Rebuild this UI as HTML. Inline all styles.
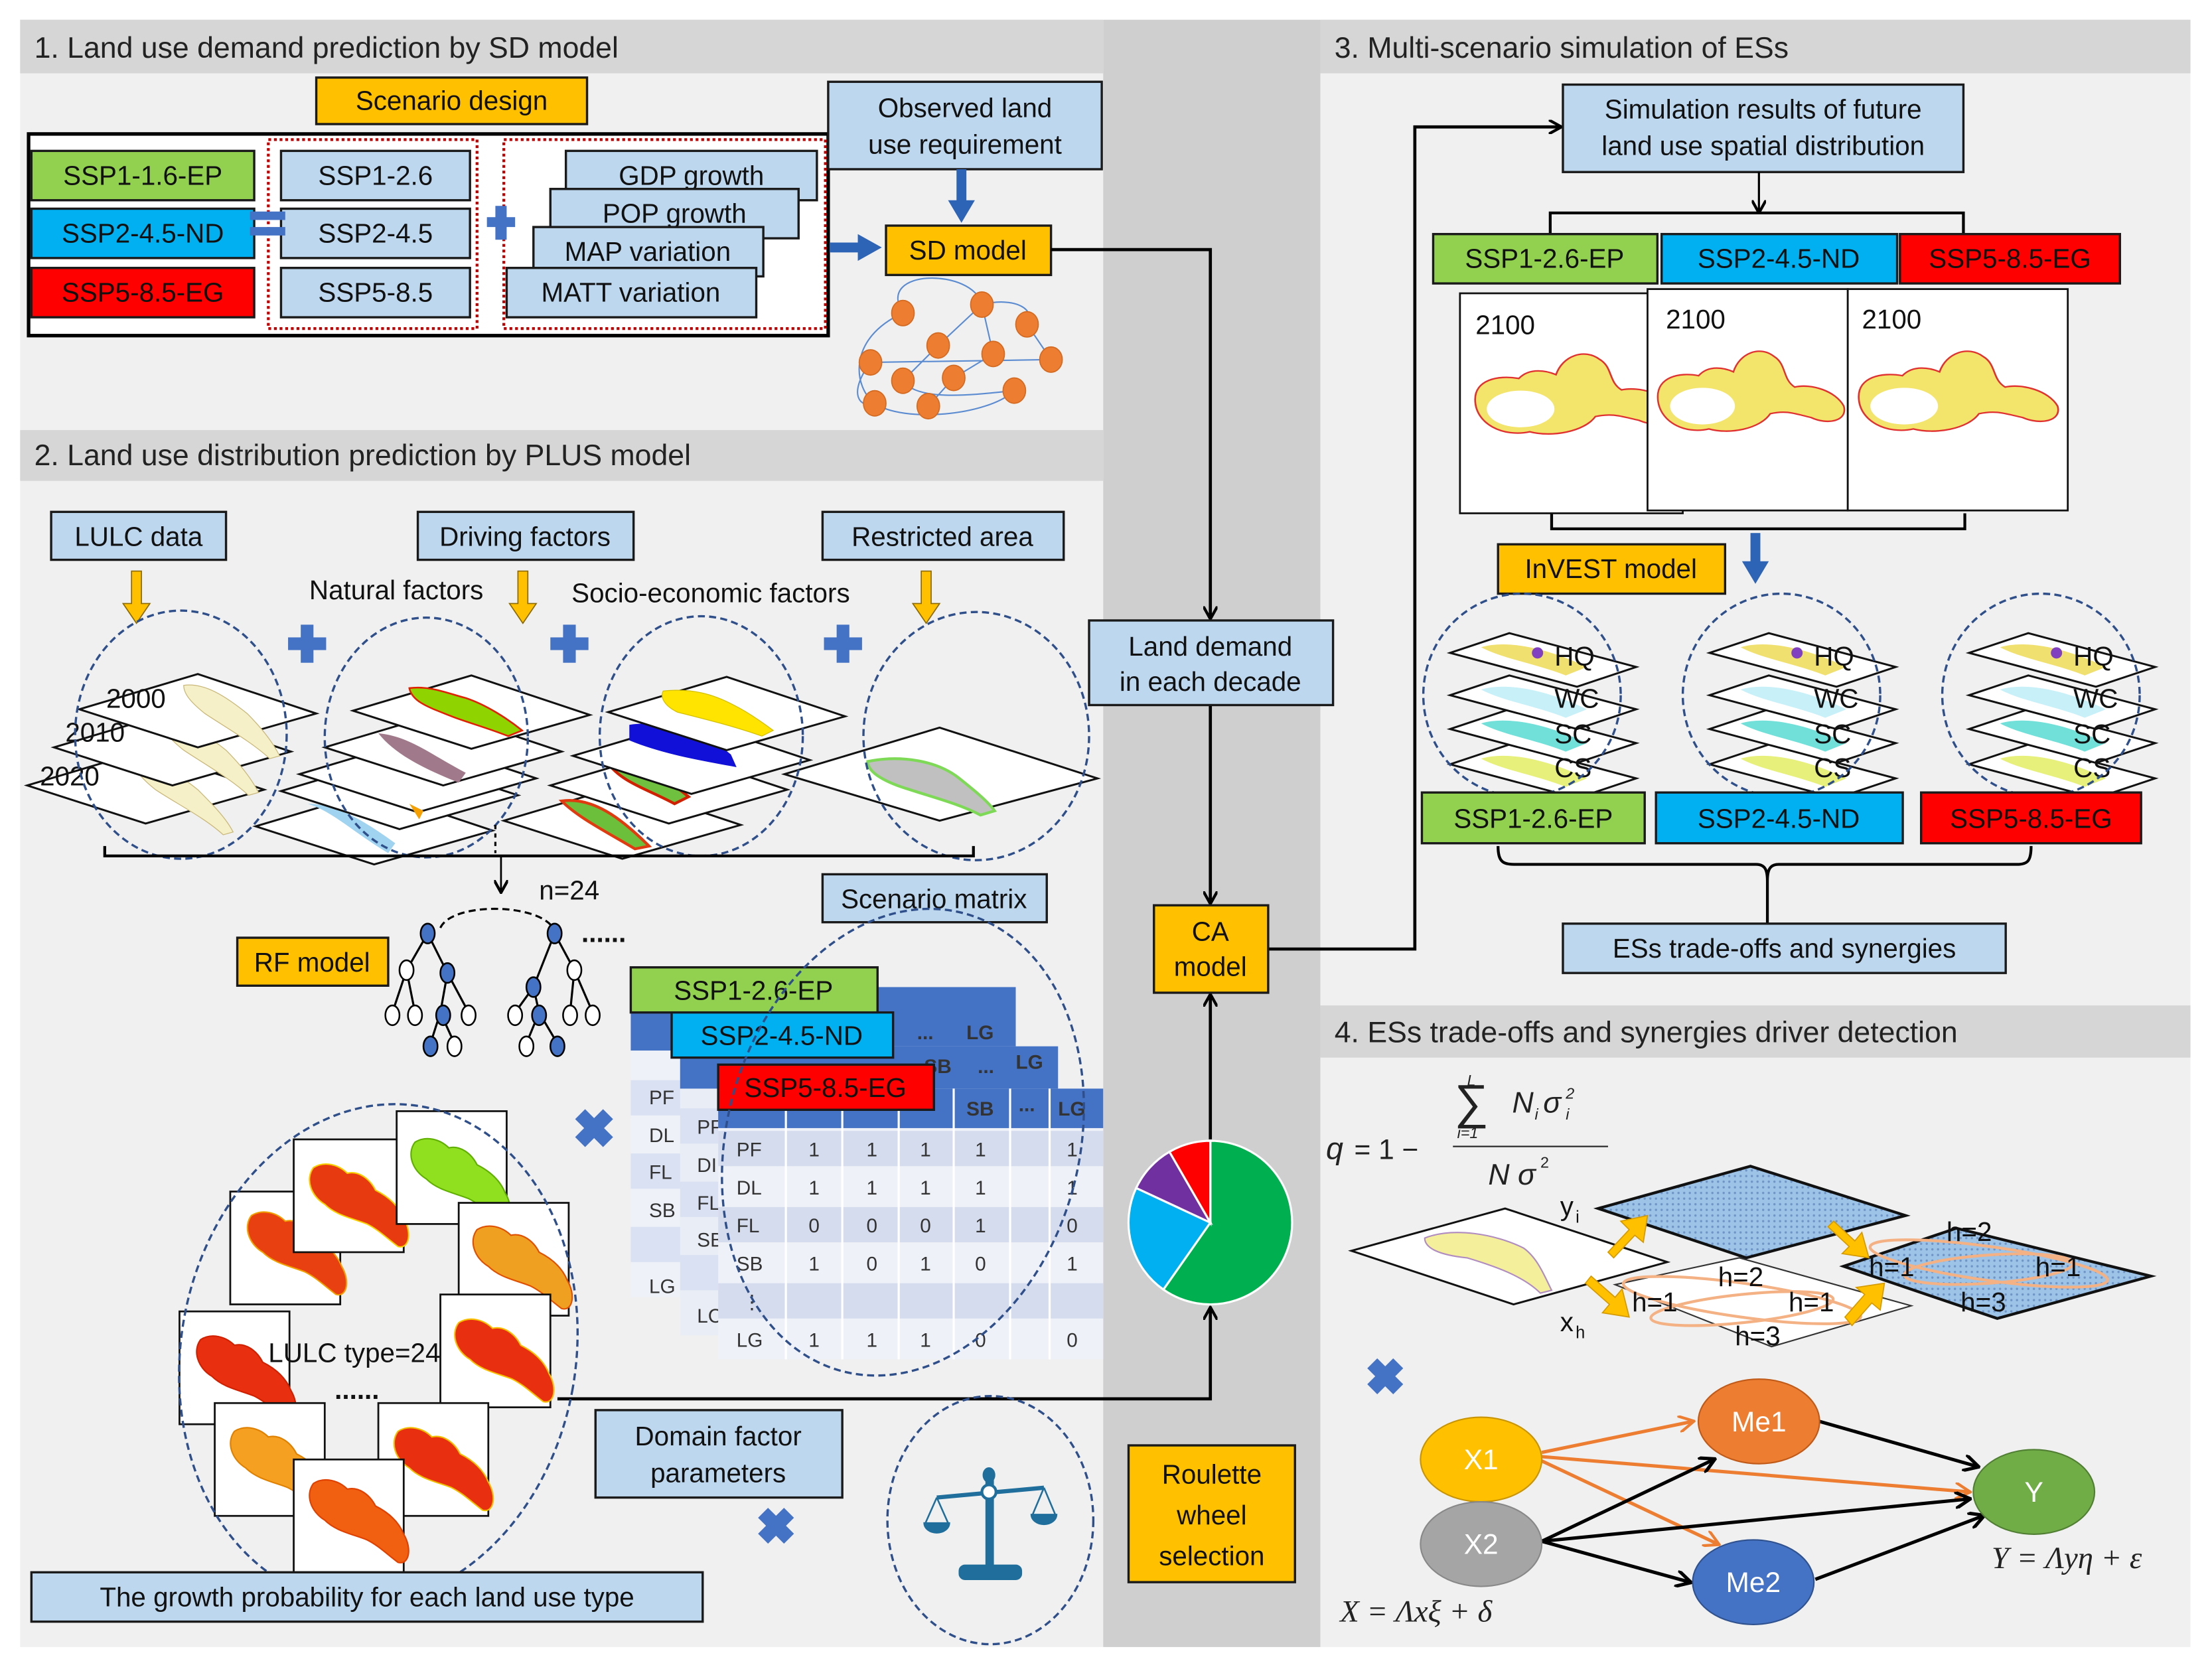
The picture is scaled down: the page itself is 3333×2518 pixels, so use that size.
<!DOCTYPE html>
<html><head><meta charset="utf-8"><style>
html,body{margin:0;padding:0;background:#fff;}
svg{display:block;}
text{font-family:"Liberation Sans",Arial,sans-serif;}
.b{font-size:19px;fill:#111;}
.h{font-size:21px;fill:#222;}
.lb{fill:#bdd7ee;stroke:#1a1a1a;stroke-width:1.6;}
.or{fill:#ffc000;stroke:#1a1a1a;stroke-width:1.6;}
.gr{fill:#92d050;stroke:#1a1a1a;stroke-width:1.6;}
.bl{fill:#00b0f0;stroke:#1a1a1a;stroke-width:1.6;}
.rd{fill:#ff0000;stroke:#1a1a1a;stroke-width:1.6;}
.dash{fill:none;stroke:#2f4f8a;stroke-width:1.6;stroke-dasharray:5 3;}
.ln{fill:none;stroke:#000;stroke-width:2.2;}
.dm{fill:#fff;stroke:#111;stroke-width:1.4;}
.tile{fill:#fff;stroke:#111;stroke-width:1.3;}
.t{font-size:14px;fill:#333;}
.w{font-size:20px;fill:#fff;}
.sr{font-family:"Liberation Serif",serif;font-style:italic;fill:#222;}
</style></head><body>
<svg width="3333" height="2518" viewBox="0 0 1568 1185" xmlns="http://www.w3.org/2000/svg">
<defs>
<marker id="ah" markerWidth="10" markerHeight="10" refX="8" refY="5" orient="auto" markerUnits="userSpaceOnUse"><path d="M0,0 L9,5 L0,10" fill="none" stroke="#000" stroke-width="2"/></marker>
<marker id="ao" markerWidth="12" markerHeight="12" refX="10" refY="6" orient="auto" markerUnits="userSpaceOnUse"><path d="M0,0 L11,6 L0,12" fill="none" stroke="#ed7d31" stroke-width="2"/></marker>
<marker id="ab" markerWidth="12" markerHeight="12" refX="10" refY="6" orient="auto" markerUnits="userSpaceOnUse"><path d="M0,0 L11,6 L0,12" fill="none" stroke="#000" stroke-width="2.4"/></marker>
<pattern id="dots" width="4" height="4" patternUnits="userSpaceOnUse"><rect width="4" height="4" fill="#9dc3e6"/><circle cx="2" cy="2" r="0.8" fill="#6f95c8"/></pattern>
<path id="basin" d="M5,35 C5,25 15,22 25,24 C30,18 38,20 42,22 C45,12 55,8 62,14 C68,18 66,26 72,30 C80,28 92,32 96,40 C98,48 88,50 80,46 C72,44 68,42 60,44 C55,52 40,55 30,52 C18,55 5,48 5,35 Z"/>
<path id="basin2" d="M10,10 C18,5 28,8 34,14 C42,12 50,18 54,26 C62,30 70,36 74,46 C80,56 78,68 70,66 C62,60 56,54 48,50 C38,46 26,44 18,36 C8,30 4,18 10,10 Z"/>
<g id="ldm"><polygon points="-84,0 0,-25 84,3 0,27" class="dm"/></g>
</defs>

<rect x="0" y="0" width="1568" height="1185" fill="#fff"/>
<rect x="14" y="14" width="768" height="1154" fill="#f0f0f0"/>
<rect x="782" y="14" width="154" height="1154" fill="#cfcfcf"/>
<rect x="936" y="14" width="617" height="1154" fill="#f0f0f0"/>
<rect x="14" y="14" width="768" height="38" fill="#d6d6d6"/>
<rect x="14" y="305" width="768" height="36" fill="#d6d6d6"/>
<rect x="936" y="14" width="617" height="38" fill="#d6d6d6"/>
<rect x="936" y="713" width="617" height="37" fill="#d6d6d6"/>
<text x="24" y="41" class="h">1. Land use demand prediction by SD model</text>
<text x="24" y="330" class="h">2. Land use distribution prediction by PLUS model</text>
<text x="946" y="41" class="h">3. Multi-scenario simulation of ESs</text>
<text x="946" y="739" class="h">4. ESs trade-offs and synergies driver detection</text>

<!-- SECTION 1 -->
<rect x="224" y="55" width="192" height="33" class="or"/><text x="320" y="78" class="b" text-anchor="middle">Scenario design</text>
<rect x="20" y="95" width="567" height="143" fill="#fff" stroke="#000" stroke-width="2.5"/>
<rect x="190" y="99" width="148" height="134" fill="none" stroke="#c00000" stroke-width="2" stroke-dasharray="2 2"/>
<rect x="357" y="99" width="228" height="134" fill="none" stroke="#c00000" stroke-width="2" stroke-dasharray="2 2"/>
<rect x="22" y="107" width="158" height="35" class="gr"/><text x="101" y="131" class="b" text-anchor="middle">SSP1-1.6-EP</text>
<rect x="22" y="148" width="158" height="35" class="bl"/><text x="101" y="172" class="b" text-anchor="middle">SSP2-4.5-ND</text>
<rect x="22" y="190" width="158" height="35" class="rd"/><text x="101" y="214" class="b" text-anchor="middle" fill="#600">SSP5-8.5-EG</text>
<rect x="199" y="107" width="134" height="35" class="lb"/><text x="266" y="131" class="b" text-anchor="middle">SSP1-2.6</text>
<rect x="199" y="148" width="134" height="35" class="lb"/><text x="266" y="172" class="b" text-anchor="middle">SSP2-4.5</text>
<rect x="199" y="190" width="134" height="35" class="lb"/><text x="266" y="214" class="b" text-anchor="middle">SSP5-8.5</text>
<rect x="177" y="150" width="25" height="6" fill="#4472c4"/><rect x="177" y="161" width="25" height="6" fill="#4472c4"/>
<rect x="345" y="154" width="20" height="7" fill="#4472c4"/><rect x="351" y="146" width="8" height="24" fill="#4472c4"/>
<rect x="401" y="107" width="178" height="35" class="lb"/><text x="490" y="131" class="b" text-anchor="middle">GDP growth</text>
<rect x="390" y="134" width="176" height="35" class="lb"/><text x="478" y="158" class="b" text-anchor="middle">POP growth</text>
<rect x="378" y="161" width="163" height="35" class="lb"/><text x="459" y="185" class="b" text-anchor="middle">MAP variation</text>
<rect x="359" y="190" width="177" height="35" class="lb"/><text x="447" y="214" class="b" text-anchor="middle">MATT variation</text>
<rect x="587" y="58" width="194" height="62" class="lb"/><text x="684" y="83" class="b" text-anchor="middle">Observed land</text><text x="684" y="109" class="b" text-anchor="middle">use requirement</text>
<rect x="678" y="120" width="7" height="24" fill="#2e64b5"/><polygon points="672,142 691,142 681.5,158" fill="#2e64b5"/>
<rect x="588" y="172" width="22" height="7" fill="#2e64b5"/><polygon points="608,166 608,185 625,175.5" fill="#2e64b5"/>
<rect x="628" y="160" width="117" height="35" class="or"/><text x="686" y="184" class="b" text-anchor="middle">SD model</text>
<g fill="none" stroke="#5b8bd0" stroke-width="1">
<path d="M640,222 C620,190 690,190 696,216"/><path d="M696,216 C720,210 735,220 728,230"/><path d="M640,222 C600,240 605,275 620,286"/><path d="M617,257 L745,255"/><path d="M620,286 C640,300 700,295 719,277"/><path d="M665,245 L640,270"/><path d="M704,251 L676,268"/><path d="M728,230 L745,255"/><path d="M658,288 L676,268"/><path d="M696,216 L704,251"/><path d="M640,270 C650,285 690,280 719,277"/><path d="M617,257 C600,280 610,290 620,286"/><path d="M665,245 L696,216"/>
</g>
<g fill="#ed7d31" stroke="#d46a20" stroke-width="0.8">
<ellipse cx="640" cy="222" rx="8" ry="9"/><ellipse cx="696" cy="216" rx="8" ry="9"/><ellipse cx="728" cy="230" rx="8" ry="9"/><ellipse cx="665" cy="245" rx="8" ry="9"/><ellipse cx="617" cy="257" rx="8" ry="9"/><ellipse cx="704" cy="251" rx="8" ry="9"/><ellipse cx="745" cy="255" rx="8" ry="9"/><ellipse cx="640" cy="270" rx="8" ry="9"/><ellipse cx="676" cy="268" rx="8" ry="9"/><ellipse cx="620" cy="286" rx="8" ry="9"/><ellipse cx="658" cy="288" rx="8" ry="9"/><ellipse cx="719" cy="277" rx="8" ry="9"/>
</g>

<polyline points="745,177 858,177 858,438" class="ln" marker-end="url(#ah)"/>
<polyline points="858,500 858,640" class="ln" marker-end="url(#ah)"/>
<polyline points="858,808 858,706" class="ln" marker-end="url(#ah)"/>
<polyline points="395,992 858,992 858,928" class="ln" marker-end="url(#ah)"/>
<polyline points="899,673 1003,673 1003,90 1106,90" class="ln" marker-end="url(#ah)"/>

<!-- SECTION 2 -->
<rect x="36" y="363" width="124" height="34" class="lb"/><text x="98" y="387" class="b" text-anchor="middle">LULC data</text>
<rect x="296" y="363" width="153" height="34" class="lb"/><text x="372" y="387" class="b" text-anchor="middle">Driving factors</text>
<rect x="583" y="363" width="171" height="34" class="lb"/><text x="668" y="387" class="b" text-anchor="middle">Restricted area</text>
<g fill="#ffc000" stroke="#8a6a00" stroke-width="0.8">
<polygon points="93,405 100,405 100,428 106,428 96.5,442 87,428 93,428"/>
<polygon points="367,405 374,405 374,428 380,428 370.5,442 361,428 367,428"/>
<polygon points="653,405 660,405 660,428 666,428 656.5,442 647,428 653,428"/>
</g>
<text x="219" y="425" class="b">Natural factors</text>
<text x="405" y="427" class="b">Socio-economic factors</text>
<g fill="#4472c4"><rect x="204" y="452" width="27" height="9"/><rect x="213" y="443" width="9" height="27"/>
<rect x="390" y="452" width="27" height="9"/><rect x="399" y="443" width="9" height="27"/>
<rect x="584" y="452" width="27" height="9"/><rect x="593" y="443" width="9" height="27"/></g>
<g><use href="#ldm" x="103" y="557"/><path d="M95,540 C110,538 125,548 140,560 C150,570 160,580 165,590 L158,592 C145,580 125,570 110,560 C100,552 95,546 95,540Z" fill="#f5f0c8" stroke="#c9b87a" stroke-width="0.6"/>
<use href="#ldm" x="122" y="530"/><path d="M115,512 C130,510 145,520 160,532 C170,542 178,552 183,562 L176,564 C163,552 145,542 130,532 C120,524 115,518 115,512Z" fill="#f5f0c8" stroke="#c9b87a" stroke-width="0.6"/>
<use href="#ldm" x="140" y="503"/><path d="M130,486 C145,484 160,494 175,506 C185,516 193,526 198,536 L191,538 C178,526 160,516 145,506 C135,498 130,492 130,486Z" fill="#f5f0c8" stroke="#c9b87a" stroke-width="0.6"/></g>
<text x="75" y="502" class="b">2000</text><text x="46" y="526" class="b">2010</text><text x="28" y="557" class="b">2020</text>
<use href="#ldm" x="265" y="586"/><path d="M218,570 C235,575 250,590 275,605 L280,598 C262,585 240,570 218,570Z" fill="#9fd3f0"/>
<use href="#ldm" x="283" y="561"/><use href="#ldm" x="296" y="549"/><path d="M290,570 l10,5 l-3,6 z" fill="#f5a000"/>
<use href="#ldm" x="314" y="530"/><path d="M268,520 C290,522 305,535 330,548 L325,555 C300,545 280,535 268,520Z" fill="#a07a8a"/>
<use href="#ldm" x="334" y="504"/><path d="M290,488 C305,486 318,492 330,495 C345,500 360,510 370,518 L360,522 C345,516 330,512 320,508 C305,502 292,498 290,488Z" fill="#8fd400" stroke="#e02000" stroke-width="1.2"/>
<use href="#ldm" x="441" y="582"/><path d="M398,568 C420,565 440,580 460,600 L450,602 C430,590 410,580 398,568Z" fill="#6bbf3a" stroke="#e03a10" stroke-width="2"/>
<use href="#ldm" x="474" y="557"/><path d="M430,540 C450,540 470,550 488,565 L478,570 C460,560 440,555 430,540Z" fill="#70c040" stroke="#d02000" stroke-width="2"/>
<use href="#ldm" x="490" y="536"/><path d="M446,514 C470,510 500,520 518,535 L522,544 C500,540 470,535 446,525Z" fill="#1010d8"/>
<use href="#ldm" x="515" y="505"/><path d="M470,490 C490,488 505,492 520,500 C530,505 540,512 548,518 L540,522 C520,515 500,510 480,505 C470,500 468,494 470,490Z" fill="#ffe400" stroke="#d4c000" stroke-width="0.6"/>
<polygon points="556,549 666,516 778,552 666,582" class="dm"/>
<path d="M615,540 C640,535 665,540 680,552 C690,560 700,568 705,575 L695,578 C680,570 660,565 645,560 C628,555 615,548 615,540Z" fill="#c0c0c0" stroke="#7ed957" stroke-width="2"/>
<ellipse cx="128" cy="521" rx="75" ry="88" class="dash"/>
<ellipse cx="302" cy="523" rx="72" ry="85" class="dash"/>
<ellipse cx="497" cy="522" rx="72" ry="85" class="dash"/>
<ellipse cx="692" cy="522" rx="80" ry="88" class="dash"/>
<line x1="351" y1="585" x2="351" y2="605" stroke="#000" stroke-width="1.5" stroke-dasharray="3 3"/>
<polyline points="74,600 74,607 690,607 690,600" fill="none" stroke="#000" stroke-width="2"/>
<line x1="355" y1="607" x2="355" y2="632" stroke="#000" stroke-width="1.3" marker-end="url(#ah)"/>
<text x="382" y="638" class="b">n=24</text>
<rect x="168" y="665" width="107" height="34" class="or"/><text x="221" y="689" class="b" text-anchor="middle">RF model</text>
<path d="M312,658 C320,640 380,640 392,658" fill="none" stroke="#000" stroke-width="1.5" stroke-dasharray="5 3"/>
<g stroke="#000" stroke-width="1.5" fill="none">
<path d="M303,662 L288,688 M303,662 L317,690 M288,688 L278,718 M288,688 L294,718 M317,690 L312,718 M317,690 L332,718 M312,718 L305,740 M312,718 L322,740"/>
<path d="M393,662 L378,700 M393,662 L407,688 M378,700 L365,718 M378,700 L382,718 M407,688 L404,718 M407,688 L420,718 M382,718 L373,740 M382,718 L395,740"/>
</g>
<g stroke="#000" stroke-width="1.2">
<ellipse cx="303" cy="662" rx="5" ry="7" fill="#4472c4"/><ellipse cx="288" cy="688" rx="5" ry="7" fill="#fff"/><ellipse cx="317" cy="690" rx="5" ry="7" fill="#4472c4"/><ellipse cx="278" cy="720" rx="5" ry="7" fill="#fff"/><ellipse cx="294" cy="720" rx="5" ry="7" fill="#fff"/><ellipse cx="314" cy="720" rx="5" ry="7" fill="#4472c4"/><ellipse cx="332" cy="720" rx="5" ry="7" fill="#fff"/><ellipse cx="305" cy="742" rx="5" ry="7" fill="#4472c4"/><ellipse cx="322" cy="742" rx="5" ry="7" fill="#fff"/>
<ellipse cx="393" cy="662" rx="5" ry="7" fill="#4472c4"/><ellipse cx="378" cy="700" rx="5" ry="7" fill="#4472c4"/><ellipse cx="407" cy="688" rx="5" ry="7" fill="#fff"/><ellipse cx="365" cy="720" rx="5" ry="7" fill="#fff"/><ellipse cx="382" cy="720" rx="5" ry="7" fill="#4472c4"/><ellipse cx="404" cy="720" rx="5" ry="7" fill="#fff"/><ellipse cx="420" cy="720" rx="5" ry="7" fill="#fff"/><ellipse cx="373" cy="742" rx="5" ry="7" fill="#fff"/><ellipse cx="395" cy="742" rx="5" ry="7" fill="#4472c4"/>
</g>
<text x="412" y="668" class="b" font-weight="bold">......</text>
<rect x="583" y="620" width="159" height="34" class="lb"/><text x="662" y="644" class="b" text-anchor="middle">Scenario matrix</text>

<rect x="447" y="700" width="273" height="220" fill="#eef1f7"/>
<rect x="447" y="700" width="273" height="45" fill="#4472c4"/>
<g fill="#d9e1f2"><rect x="447" y="766" width="273" height="25"/><rect x="447" y="818" width="273" height="25"/><rect x="447" y="870" width="273" height="25"/></g>
<rect x="672" y="720" width="40" height="22" fill="#4472c4"/><text x="685" y="737" class="t" fill="#fff" font-weight="bold">LG</text><text x="650" y="737" class="t" fill="#fff" font-weight="bold">...</text>
<text x="460" y="783" class="t">PF</text><text x="460" y="810" class="t">DL</text><text x="460" y="836" class="t">FL</text><text x="460" y="863" class="t">SB</text><text x="460" y="917" class="t">LG</text>
<rect x="482" y="742" width="268" height="205" fill="#e9edf5"/>
<rect x="482" y="742" width="268" height="30" fill="#4472c4"/>
<g fill="#d9e1f2"><rect x="482" y="786" width="268" height="25"/><rect x="482" y="838" width="268" height="25"/><rect x="482" y="890" width="268" height="25"/></g>
<text x="655" y="761" class="t" fill="#fff" font-weight="bold">SB</text><text x="693" y="761" class="t" fill="#fff" font-weight="bold">...</text><text x="720" y="758" class="t" fill="#fff" font-weight="bold">LG</text>
<text x="494" y="804" class="t">PF</text><text x="494" y="831" class="t">DI</text><text x="494" y="858" class="t">FL</text><text x="494" y="884" class="t">SB</text><text x="494" y="938" class="t">LC</text>
<rect x="509" y="772" width="273" height="192" fill="#eef1f7"/>
<rect x="509" y="772" width="273" height="28" fill="#4472c4"/>
<g fill="#d5dcee"><rect x="509" y="802" width="273" height="25"/><rect x="509" y="856" width="273" height="25"/><rect x="509" y="910" width="273" height="25"/></g>
<g stroke="#fff" stroke-width="1.5"><line x1="557" y1="772" x2="557" y2="964"/><line x1="597" y1="772" x2="597" y2="964"/><line x1="637" y1="772" x2="637" y2="964"/><line x1="676" y1="772" x2="676" y2="964"/><line x1="716" y1="772" x2="716" y2="964"/><line x1="744" y1="772" x2="744" y2="964"/></g>
<text x="685" y="791" class="t" fill="#fff" font-weight="bold">SB</text><text x="722" y="788" class="t" fill="#fff" font-weight="bold">...</text><text x="750" y="791" class="t" fill="#fff" font-weight="bold">LG</text>
<g font-size="14" fill="#333">
<text x="522" y="820">PF</text><text x="522" y="847">DL</text><text x="522" y="874">FL</text><text x="522" y="901">SB</text><text x="526" y="928">⋮</text><text x="522" y="955">LG</text>
</g>
<g font-size="14" fill="#333" text-anchor="middle">
<text x="577" y="820">1</text><text x="618" y="820">1</text><text x="656" y="820">1</text><text x="695" y="820">1</text><text x="760" y="820">1</text>
<text x="577" y="847">1</text><text x="618" y="847">1</text><text x="656" y="847">1</text><text x="695" y="847">1</text><text x="760" y="847">1</text>
<text x="577" y="874">0</text><text x="618" y="874">0</text><text x="656" y="874">0</text><text x="695" y="874">1</text><text x="760" y="874">0</text>
<text x="577" y="901">1</text><text x="618" y="901">0</text><text x="656" y="901">1</text><text x="695" y="901">0</text><text x="760" y="901">1</text>
<text x="577" y="955">1</text><text x="618" y="955">1</text><text x="656" y="955">1</text><text x="695" y="955">0</text><text x="760" y="955">0</text>
</g>
<rect x="447" y="686" width="175" height="32" class="gr"/><text x="534" y="709" class="b" text-anchor="middle">SSP1-2.6-EP</text>
<rect x="476" y="718" width="157" height="32" class="bl"/><text x="554" y="741" class="b" text-anchor="middle">SSP2-4.5-ND</text>
<rect x="509" y="755" width="153" height="32" class="rd"/><text x="585" y="778" class="b" text-anchor="middle" fill="#600">SSP5-8.5-EG</text>
<ellipse cx="640" cy="810" rx="125" ry="168" class="dash" transform="rotate(15 640 810)"/>
<g transform="translate(421,800) rotate(45)" fill="#4472c4"><rect x="-14" y="-5" width="28" height="10"/><rect x="-5" y="-14" width="10" height="28"/></g>

<g>
<rect x="127" y="930" width="78" height="80" class="tile"/><use href="#basin2" x="132" y="940" fill="#e83010" stroke="#d02000"/>
<rect x="163" y="845" width="78" height="80" class="tile"/><use href="#basin2" x="168" y="852" fill="#e84010" stroke="#f0a000"/>
<rect x="208" y="808" width="78" height="80" class="tile"/><use href="#basin2" x="212" y="818" fill="#e83a10" stroke="#f8d000"/>
<rect x="281" y="788" width="78" height="80" class="tile"/><use href="#basin2" x="284" y="800" fill="#90e020" stroke="#60b000"/>
<rect x="325" y="853" width="78" height="80" class="tile"/><use href="#basin2" x="328" y="862" fill="#f0a020" stroke="#e05000"/>
<rect x="312" y="918" width="78" height="80" class="tile"/><use href="#basin2" x="315" y="928" fill="#e83010" stroke="#f8c000"/>
<rect x="152" y="995" width="78" height="80" class="tile"/><use href="#basin2" x="156" y="1005" fill="#f5a020" stroke="#e08000"/>
<rect x="268" y="995" width="78" height="80" class="tile"/><use href="#basin2" x="272" y="1005" fill="#e83010" stroke="#f0c000"/>
<rect x="208" y="1035" width="78" height="80" class="tile"/><use href="#basin2" x="212" y="1042" fill="#f06010" stroke="#e04000"/>
</g>
<ellipse cx="268" cy="960" rx="140" ry="178" class="dash" transform="rotate(10 268 960)"/>
<text x="190" y="966" class="b">LULC type=24</text>
<text x="237" y="992" class="b" font-weight="bold">......</text>
<rect x="422" y="1000" width="175" height="62" class="lb"/><text x="509" y="1025" class="b" text-anchor="middle">Domain factor</text><text x="509" y="1051" class="b" text-anchor="middle">parameters</text>
<g transform="translate(550,1082) rotate(45)" fill="#4472c4"><rect x="-13" y="-5" width="26" height="10"/><rect x="-5" y="-13" width="10" height="26"/></g>
<ellipse cx="702" cy="1078" rx="73" ry="88" class="dash"/>
<g fill="#1f6e9c" stroke="#1f6e9c">
<rect x="699" y="1045" width="5" height="70"/><rect x="680" y="1110" width="44" height="10" rx="4"/>
<line x1="664" y1="1062" x2="740" y2="1055" stroke-width="3"/><circle cx="701" cy="1058" r="5" fill="#fff" stroke-width="2"/><ellipse cx="701" cy="1046" rx="4" ry="5"/>
<path d="M664,1062 L656,1080 M664,1062 L672,1080 M740,1055 L732,1074 M740,1055 L748,1074" stroke-width="1.2" fill="none"/>
<path d="M655,1080 L673,1080 A9,7 0 0 1 655,1080Z"/><path d="M731,1074 L749,1074 A9,7 0 0 1 731,1074Z"/>
</g>
<rect x="22" y="1115" width="476" height="35" class="lb"/><text x="260" y="1139" class="b" text-anchor="middle">The growth probability for each land use type</text>

<!-- MIDDLE -->
<rect x="772" y="440" width="173" height="60" class="lb"/><text x="858" y="465" class="b" text-anchor="middle">Land demand</text><text x="858" y="490" class="b" text-anchor="middle">in each decade</text>
<rect x="818" y="642" width="81" height="62" class="or"/><text x="858" y="667" class="b" text-anchor="middle">CA</text><text x="858" y="692" class="b" text-anchor="middle">model</text>
<g stroke="#fff" stroke-width="1.5">
<path d="M858,867 L858,809 A58,58 0 1 1 824.7,914.5 Z" fill="#00b050"/>
<path d="M858,867 L824.7,914.5 A58,58 0 0 1 805.4,842.5 Z" fill="#00b0f0"/>
<path d="M858,867 L805.4,842.5 A58,58 0 0 1 829,816.8 Z" fill="#7030a0"/>
<path d="M858,867 L829,816.8 A58,58 0 0 1 858,809 Z" fill="#ff0000"/>
</g>
<rect x="800" y="1025" width="118" height="97" class="or"/><text x="859" y="1052" class="b" text-anchor="middle" font-size="20">Roulette</text><text x="859" y="1081" class="b" text-anchor="middle" font-size="20">wheel</text><text x="859" y="1110" class="b" text-anchor="middle" font-size="20">selection</text>

<!-- SECTION 3 -->
<rect x="1108" y="60" width="284" height="62" class="lb"/><text x="1250" y="84" class="b" text-anchor="middle">Simulation results of future</text><text x="1250" y="110" class="b" text-anchor="middle">land use spatial distribution</text>
<line x1="1247" y1="122" x2="1247" y2="150" stroke="#000" stroke-width="1.5" marker-end="url(#ah)"/>
<polyline points="1099,166 1099,151 1392,151 1392,166" fill="none" stroke="#000" stroke-width="2"/>
<rect x="1016" y="166" width="159" height="35" class="gr"/><text x="1095" y="190" class="b" text-anchor="middle">SSP1-2.6-EP</text>
<rect x="1178" y="166" width="167" height="35" class="bl"/><text x="1261" y="190" class="b" text-anchor="middle">SSP2-4.5-ND</text>
<rect x="1347" y="166" width="156" height="35" class="rd"/><text x="1425" y="190" class="b" text-anchor="middle" fill="#600">SSP5-8.5-EG</text>
<polyline points="1100,364 1100,375 1393,375 1393,364" fill="none" stroke="#000" stroke-width="2"/>
<rect x="1035" y="208" width="158" height="156" class="tile"/>
<g transform="translate(1038,236) scale(1.55 1.35)"><use href="#basin" fill="#f3e46b" stroke="#e03030" stroke-width="0.8"/></g>
<ellipse cx="1078" cy="290" rx="24" ry="13" fill="#fff"/>
<rect x="1168" y="205" width="142" height="157" class="tile"/>
<g transform="translate(1168,234) scale(1.45 1.35)"><use href="#basin" fill="#f3e46b" stroke="#e03030" stroke-width="0.8"/></g>
<ellipse cx="1207" cy="288" rx="23" ry="13" fill="#fff"/>
<rect x="1310" y="205" width="156" height="157" class="tile"/>
<g transform="translate(1310,234) scale(1.55 1.35)"><use href="#basin" fill="#f3e46b" stroke="#e03030" stroke-width="0.8"/></g>
<ellipse cx="1350" cy="288" rx="24" ry="13" fill="#fff"/>
<text x="1046" y="237" class="b">2100</text><text x="1181" y="233" class="b">2100</text><text x="1320" y="233" class="b">2100</text>
<rect x="1241" y="378" width="7" height="22" fill="#2e64b5"/><polygon points="1235,398 1254,398 1244.5,414" fill="#2e64b5"/>
<rect x="1062" y="386" width="161" height="35" class="or"/><text x="1142" y="410" class="b" text-anchor="middle">InVEST model</text>
<g id="es1">
<polygon points="1028,542 1070,528 1160,552 1118,566" class="dm"/><path d="M1050,538 C1070,532 1100,540 1125,552 L1110,558 C1090,550 1065,546 1050,538Z" fill="#e6f07a"/>
<polygon points="1028,517 1070,503 1160,527 1118,541" class="dm"/><path d="M1050,513 C1070,507 1100,515 1125,527 L1110,533 C1090,525 1065,521 1050,513Z" fill="#70e0d8"/>
<polygon points="1028,493 1070,479 1160,503 1118,517" class="dm"/><path d="M1050,489 C1070,483 1100,491 1125,503 L1110,509 C1090,501 1065,497 1050,489Z" fill="#c8f0f8"/>
<polygon points="1028,463 1070,449 1160,473 1118,487" class="dm"/><path d="M1050,459 C1070,453 1100,461 1125,473 L1110,479 C1090,471 1065,467 1050,459Z" fill="#f0e070"/><circle cx="1090" cy="463" r="4" fill="#8040c0"/>
<text x="1102" y="472" class="b">HQ</text><text x="1102" y="502" class="b">WC</text><text x="1102" y="527" class="b">SC</text><text x="1102" y="551" class="b">CS</text>
<ellipse cx="1079" cy="493" rx="70" ry="72" class="dash"/>
</g>
<use href="#es1" x="184" y="0"/>
<use href="#es1" x="368" y="0"/>
<rect x="1008" y="562" width="158" height="36" class="gr"/><text x="1087" y="587" class="b" text-anchor="middle">SSP1-2.6-EP</text>
<rect x="1174" y="562" width="175" height="36" class="bl"/><text x="1261" y="587" class="b" text-anchor="middle">SSP2-4.5-ND</text>
<rect x="1362" y="562" width="156" height="36" class="rd"/><text x="1440" y="587" class="b" text-anchor="middle" fill="#600">SSP5-8.5-EG</text>
<path d="M1062,600 C1062,612 1066,613 1075,613 L1245,613 C1252,613 1253,618 1253,625 C1253,618 1254,613 1261,613 L1430,613 C1438,613 1440,610 1440,600" fill="none" stroke="#000" stroke-width="2"/>
<line x1="1253" y1="625" x2="1253" y2="655" stroke="#000" stroke-width="2"/>
<rect x="1108" y="655" width="314" height="35" class="lb"/><text x="1265" y="679" class="b" text-anchor="middle">ESs trade-offs and synergies</text>

<!-- SECTION 4 -->
<g class="sr">
<text x="940" y="822" font-size="22">q</text><text x="960" y="822" font-size="20" font-style="normal">= 1 −</text>
<text x="1031" y="793" font-size="34" font-style="normal">∑</text>
<text x="1040" y="770" font-size="11">L</text><text x="1033" y="807" font-size="11">i=1</text>
<text x="1072" y="789" font-size="21">N</text><text x="1088" y="794" font-size="11">i</text><text x="1094" y="789" font-size="21">σ</text><text x="1110" y="794" font-size="11">i</text><text x="1110" y="779" font-size="11">2</text>
<line x1="1030" y1="813" x2="1140" y2="813" stroke="#222" stroke-width="1"/>
<text x="1055" y="840" font-size="21">N σ</text><text x="1092" y="828" font-size="11" font-style="normal">2</text>
</g>
<polygon points="958,887 1067,857 1182,895 1073,925" class="dm"/>
<path d="M1010,878 C1030,870 1060,875 1080,885 C1090,892 1095,905 1100,915 L1092,917 C1080,905 1060,898 1040,892 C1020,890 1010,885 1010,878Z" fill="#f3ef9a" stroke="#b08cc0" stroke-width="1"/>
<polygon points="1133,857 1241,827 1351,862 1238,892" fill="url(#dots)" stroke="#111" stroke-width="2"/>
<polygon points="1145,911 1233,892 1355,926 1256,955" fill="#fff" stroke="#333" stroke-width="1"/>
<polygon points="1307,898 1387,871 1525,905 1416,935" fill="url(#dots)" stroke="#111" stroke-width="2"/>
<g fill="none" stroke="#f4b183" stroke-width="2">
<ellipse cx="1235" cy="922" rx="85" ry="12" transform="rotate(8 1235 922)"/><ellipse cx="1235" cy="928" rx="65" ry="10" transform="rotate(-6 1235 928)"/>
<ellipse cx="1410" cy="896" rx="85" ry="12" transform="rotate(8 1410 896)"/><ellipse cx="1410" cy="900" rx="60" ry="10" transform="rotate(-4 1410 900)"/>
</g>
<g font-size="19" fill="#111">
<text x="1106" y="862">y</text><text x="1117" y="867" font-size="12">i</text>
<text x="1106" y="944">x</text><text x="1117" y="949" font-size="12">h</text>
<text x="1157" y="930">h=1</text><text x="1218" y="912">h=2</text><text x="1268" y="930">h=1</text><text x="1230" y="954">h=3</text>
<text x="1380" y="880">h=2</text><text x="1325" y="905">h=1</text><text x="1443" y="905">h=1</text><text x="1390" y="930">h=3</text>
</g>
<g fill="#ffc000" stroke="#d49a00" stroke-width="0.8">
<path d="M1140,888 L1155,872 L1149,866 L1168,862 L1165,881 L1159,876 L1144,892Z"/>
<path d="M1128,905 L1145,920 L1150,914 L1155,934 L1136,931 L1141,925 L1124,910Z"/>
<path d="M1300,866 L1315,880 L1320,874 L1325,892 L1306,889 L1311,884 L1296,870Z"/>
<path d="M1308,934 L1322,918 L1316,913 L1336,910 L1333,929 L1327,924 L1313,940Z"/>
</g>
<g transform="translate(982,976) rotate(45)" fill="#4472c4"><rect x="-13" y="-5" width="26" height="10"/><rect x="-5" y="-13" width="10" height="26"/></g>
<g stroke-width="2.4" fill="none">
<line x1="1093" y1="1030" x2="1200" y2="1008" stroke="#ed7d31" marker-end="url(#ao)"/>
<line x1="1093" y1="1033" x2="1396" y2="1058" stroke="#ed7d31" marker-end="url(#ao)"/>
<line x1="1093" y1="1036" x2="1218" y2="1095" stroke="#ed7d31" marker-end="url(#ao)"/>
<line x1="1093" y1="1093" x2="1215" y2="1035" stroke="#000" marker-end="url(#ab)"/>
<line x1="1093" y1="1093" x2="1396" y2="1063" stroke="#000" marker-end="url(#ab)"/>
<line x1="1093" y1="1093" x2="1198" y2="1122" stroke="#000" marker-end="url(#ab)"/>
<line x1="1290" y1="1008" x2="1402" y2="1040" stroke="#000" marker-end="url(#ab)"/>
<line x1="1287" y1="1120" x2="1406" y2="1075" stroke="#000" marker-end="url(#ab)"/>
</g>
<ellipse cx="1050" cy="1035" rx="43" ry="30" fill="#ffc000" stroke="#c89400"/>
<ellipse cx="1050" cy="1095" rx="43" ry="30" fill="#a5a5a5" stroke="#888"/>
<ellipse cx="1247" cy="1008" rx="43" ry="30" fill="#ed7d31" stroke="#c05a18"/>
<ellipse cx="1243" cy="1122" rx="43" ry="30" fill="#4472c4" stroke="#2f528f"/>
<ellipse cx="1442" cy="1058" rx="43" ry="30" fill="#70ad47" stroke="#507e32"/>
<text x="1050" y="1042" class="w" text-anchor="middle">X1</text>
<text x="1050" y="1102" class="w" text-anchor="middle">X2</text>
<text x="1247" y="1015" class="w" text-anchor="middle">Me1</text>
<text x="1243" y="1129" class="w" text-anchor="middle">Me2</text>
<text x="1442" y="1065" class="w" text-anchor="middle">Y</text>
<text x="950" y="1150" class="sr" font-size="22">X = Λxξ + δ</text>
<text x="1412" y="1112" class="sr" font-size="22">Y = Λyη + ε</text>
</svg>
</body></html>
